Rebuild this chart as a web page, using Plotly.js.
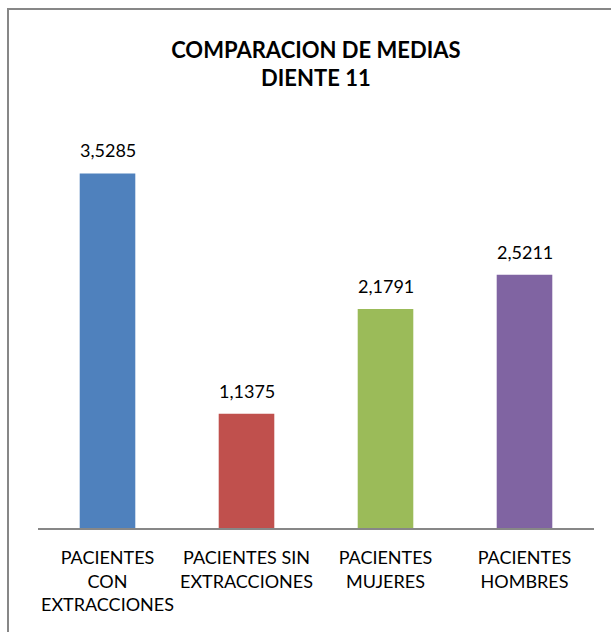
<!DOCTYPE html>
<html>
<head>
<meta charset="utf-8">
<script src="https://cdn.plot.ly/plotly-3.0.1.min.js"></script>
<style>
  html, body { margin: 0; padding: 0; overflow: hidden; background: #fff; }
  #chart { width: 611px; height: 632px; position: absolute; left: 0; top: 0; }
  #frame { position: absolute; left: 7px; top: 8px; width: 700px; height: 700px;
           border: 2px solid #878787; pointer-events: none; }
</style>
</head>
<body>
<div id="chart"></div>
<div id="frame"></div>
<script>
const categories = [
  "PACIENTES<br>CON<br>EXTRACCIONES",
  "PACIENTES SIN<br>EXTRACCIONES",
  "PACIENTES<br>MUJERES",
  "PACIENTES<br>HOMBRES"
];
const values = [3.5285, 1.1375, 2.1791, 2.5211];
const colors = ["#4F81BD", "#C0504D", "#9BBB59", "#8064A2"];
const titleText = "COMPARACION DE MEDIAS<br>DIENTE 11";

const FONT = "Lato, 'Open Sans', sans-serif";

const trace = {
  type: "bar",
  x: categories,
  y: values,
  marker: { color: colors },
  width: 0.4,
  hoverinfo: "none"
};

const annotations = categories.map((c, i) => ({
  x: c, y: values[i], xref: "x", yref: "y",
  text: values[i].toFixed(4).replace(".", ","),
  showarrow: false, yanchor: "bottom", yshift: 10,
  font: { family: FONT, size: 18, color: "#000" }
}));

const layout = {
  width: 611,
  height: 632,
  margin: { l: 38, r: 17, t: 126, b: 104 },
  paper_bgcolor: "#fff",
  plot_bgcolor: "#fff",
  showlegend: false,
  title: {
    text: titleText,
    font: { family: FONT, size: 22, color: "#000", weight: "bold" },
    x: 0.517, xanchor: "center",
    y: 0.909, yanchor: "middle"
  },
  annotations: annotations,
  xaxis: {
    showline: true, linecolor: "#878787", linewidth: 1.5,
    ticks: "", showgrid: false, zeroline: false,
    tickfont: { family: FONT, size: 18, color: "#000" },
    ticklabelstandoff: 13,
    fixedrange: true
  },
  yaxis: {
    range: [0, 4], visible: false, showgrid: false, zeroline: false, fixedrange: true
  }
};

Plotly.newPlot("chart", [trace], layout, { displayModeBar: false, staticPlot: true });
</script>
</body>
</html>
